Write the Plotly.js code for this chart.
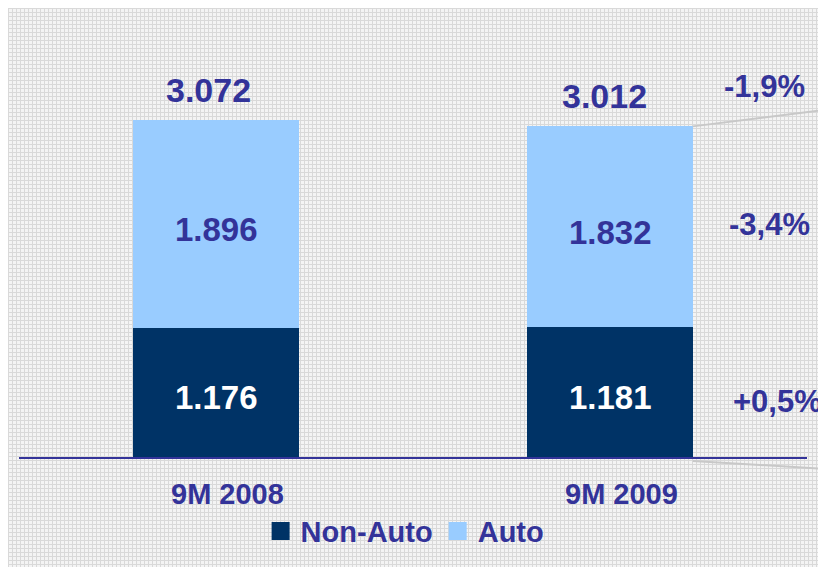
<!DOCTYPE html>
<html>
<head>
<meta charset="utf-8">
<script src="https://cdn.plot.ly/plotly-3.0.1.min.js"></script>
<style>
  html, body { margin: 0; padding: 0; background: #ffffff; }
  #wrap { position: relative; width: 818px; height: 567px; overflow: hidden; background: #ffffff; }
  #bg { position: absolute; left: 8px; top: 8px; right: 0; bottom: 0;
        background-color: #f4f4f4;
        background-image: linear-gradient(to right, #d9d9d9 1px, transparent 1px),
                          linear-gradient(to bottom, #d9d9d9 1px, transparent 1px);
        background-size: 4px 4px; }
  #chart { position: absolute; left: 0; top: 0; width: 818px; height: 567px; }
</style>
</head>
<body>
<div id="wrap"><div id="bg"></div><div id="chart"></div></div>
<script>
// ---- data ----
var categories = ['9M 2008', '9M 2009'];
var nonAuto = [1176, 1181];
var auto = [1896, 1832];
var totals = [3072, 3012];
var changes = ['-1,9%', '-3,4%', '+0,5%'];
var seriesNames = ['Non-Auto', 'Auto'];

// ---- styles ----
var textColor = '#333399';
var darkColor = '#003366';
var lightColor = '#99ccff';
var fontFam = 'Arial, "Liberation Sans", sans-serif';
var barWidth = 0.42;
var yMax = 3981;

function fmt(v) {
  var th = Math.floor(v / 1000);
  var rest = String(v % 1000).padStart(3, '0');
  return th > 0 ? th + '.' + rest : String(v);
}

var traces = [
  { type: 'bar', name: seriesNames[0], x: categories, y: nonAuto, width: barWidth,
    marker: { color: darkColor, line: { width: 0 } }, hoverinfo: 'skip' },
  { type: 'bar', name: seriesNames[1], x: categories, y: auto, width: barWidth,
    marker: { color: lightColor, line: { width: 0 } }, hoverinfo: 'skip' }
];

var annotations = [];
var totalXShift = [-8, -6];
for (var i = 0; i < categories.length; i++) {
  annotations.push({ x: categories[i], y: totals[i], xref: 'x', yref: 'y', text: fmt(totals[i]),
    showarrow: false, yanchor: 'middle', yshift: 30, xshift: totalXShift[i],
    font: { family: fontFam, size: 34, color: textColor, weight: 'bold' } });
  annotations.push({ x: categories[i], y: nonAuto[i] + auto[i] / 2, xref: 'x', yref: 'y', text: fmt(auto[i]),
    showarrow: false, yanchor: 'middle', yshift: -6,
    font: { family: fontFam, size: 33, color: textColor, weight: 'bold' } });
  annotations.push({ x: categories[i], y: nonAuto[i] / 2, xref: 'x', yref: 'y', text: fmt(nonAuto[i]),
    showarrow: false, yanchor: 'middle', yshift: -5,
    font: { family: fontFam, size: 33, color: '#ffffff', weight: 'bold' } });
  // category labels (drawn as annotations so they can sit slightly right of bar centres as in the original)
  annotations.push({ x: categories[i], y: 0, xref: 'x', yref: 'paper', text: categories[i],
    showarrow: false, yanchor: 'middle', yshift: -37, xshift: 11,
    font: { family: fontFam, size: 29, color: textColor, weight: 'bold' } });
}
var last = categories.length - 1;
var changeY = [totals[last], nonAuto[last] + auto[last] / 2, nonAuto[last] / 2];
var changeX = [0.892, 0.898, 0.904];
var changeShift = [40, 2, -9];
for (var j = 0; j < changes.length; j++) {
  annotations.push({ xref: 'paper', yref: 'y', x: changeX[j], y: changeY[j], text: changes[j],
    showarrow: false, xanchor: 'left', yanchor: 'middle', yshift: changeShift[j],
    font: { family: fontFam, size: 31, color: textColor, weight: 'bold' } });
}

var barRightPaper = (last + barWidth / 2 + 0.5) / categories.length;
var shapes = [
  { type: 'line', xref: 'paper', yref: 'paper', x0: barRightPaper, y0: totals[last] / yMax,
    x1: 1.02, y1: totals[last] / yMax + 0.037, line: { color: '#c8c8c8', width: 2 } },
  { type: 'line', xref: 'paper', yref: 'paper', x0: barRightPaper, y0: -0.009,
    x1: 1.02, y1: -0.027, line: { color: '#c8c8c8', width: 2 } }
];

var layout = {
  width: 818, height: 567,
  margin: { l: 19, r: 11, t: 20, b: 109 },
  paper_bgcolor: 'rgba(0,0,0,0)', plot_bgcolor: 'rgba(0,0,0,0)',
  barmode: 'stack',
  showlegend: true,
  legend: { orientation: 'h', x: 0.49, xanchor: 'center', y: -0.167, yanchor: 'middle',
    traceorder: 'normal', bgcolor: 'rgba(0,0,0,0)', itemwidth: 30,
    font: { family: fontFam, size: 29, color: textColor, weight: 'bold' } },
  xaxis: { type: 'category', range: [-0.5, 1.5], showline: true, linecolor: '#333399', linewidth: 2,
    ticks: '', showticklabels: false, showgrid: false, zeroline: false, fixedrange: true },
  yaxis: { range: [0, yMax], visible: false, showgrid: false, zeroline: false, fixedrange: true },
  annotations: annotations,
  shapes: shapes
};

Plotly.newPlot('chart', traces, layout, { displayModeBar: false, staticPlot: true }).then(function () {
  document.querySelectorAll('#chart .legendpoints path').forEach(function (p) {
    var t = p.getAttribute('transform') || '';
    p.setAttribute('transform', t + ' scale(1.5)');
  });
});
</script>
</body>
</html>
